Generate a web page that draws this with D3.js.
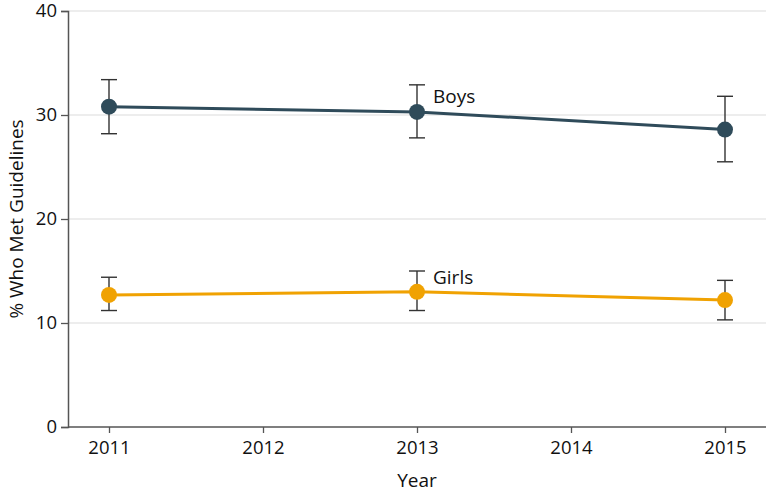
<html>
<script src="https://d3js.org/d3.v7.min.js"></script>
<style>
body { margin: 0; background: #fff; }
text { font-family: "Open Sans", "DejaVu Sans", sans-serif; fill: #111; }
</style>
<body>
<svg width="769" height="492"></svg>
<script>
const years = [2011, 2013, 2015];
const boys = [30.8, 30.3, 28.6];
const boysLow = [28.2, 27.8, 25.5];
const boysHigh = [33.4, 32.9, 31.8];
const girls = [12.7, 13.0, 12.2];
const girlsLow = [11.2, 11.2, 10.3];
const girlsHigh = [14.4, 15.0, 14.1];
const xTicks = [2011, 2012, 2013, 2014, 2015];
const yTicks = [0, 10, 20, 30, 40];

const svg = d3.select("svg");
const plotLeft = 68, plotRight = 766, plotTop = 11, plotBottom = 427;

const x = d3.scaleLinear().domain([2011, 2015]).range([109, 725]);
const y = d3.scaleLinear().domain([0, 40]).range([plotBottom, plotTop]);

// gridlines
svg.append("g").selectAll("line")
    .data(yTicks.filter(d => d > 0))
    .enter().append("line")
    .attr("x1", plotLeft).attr("x2", plotRight)
    .attr("y1", d => y(d)).attr("y2", d => y(d))
    .attr("stroke", "#dcdcdc").attr("stroke-width", 1.2);

// y axis
const yAxis = svg.append("g")
    .attr("transform", `translate(${plotLeft},0)`)
    .call(d3.axisLeft(y).tickValues(yTicks).tickSize(7).tickPadding(4));
yAxis.select(".domain").attr("stroke", "#555").attr("stroke-width", 1.5);
yAxis.selectAll(".tick line").attr("stroke", "#555").attr("stroke-width", 1.3);
yAxis.selectAll(".tick text").attr("font-size", 18.5).attr("fill", "#111")
    .attr("font-family", "'Open Sans', sans-serif");

// x axis
const xAxis = svg.append("g")
    .attr("transform", `translate(0,${plotBottom})`)
    .call(d3.axisBottom(x).tickValues(xTicks).tickFormat(d3.format("d")).tickSize(6).tickPadding(8));
xAxis.select(".domain").attr("d", `M${plotLeft},0H${plotRight}`).attr("stroke", "#555").attr("stroke-width", 1.5);
xAxis.selectAll(".tick line").attr("stroke", "#555").attr("stroke-width", 1.3);
xAxis.selectAll(".tick text").attr("font-size", 18.5).attr("fill", "#111")
    .attr("font-family", "'Open Sans', sans-serif");

// titles
svg.append("text")
    .attr("x", x(2013)).attr("y", 487)
    .attr("text-anchor", "middle").attr("font-size", 19)
    .text("Year");
svg.append("text")
    .attr("transform", `translate(23,${y(20)}) rotate(-90)`)
    .attr("text-anchor", "middle").attr("font-size", 19)
    .text("% Who Met Guidelines");

function series(vals, lo, hi, color, label, labelDy) {
    const pts = years.map((yr, i) => ({ yr, v: vals[i], lo: lo[i], hi: hi[i] }));
    const g = svg.append("g");
    g.append("path")
        .datum(pts)
        .attr("fill", "none").attr("stroke", color).attr("stroke-width", 3)
        .attr("d", d3.line().x(d => x(d.yr)).y(d => y(d.v)));
    const eb = g.selectAll(".eb").data(pts).enter().append("g");
    eb.append("line")
        .attr("x1", d => x(d.yr)).attr("x2", d => x(d.yr))
        .attr("y1", d => y(d.lo)).attr("y2", d => y(d.hi))
        .attr("stroke", "#333").attr("stroke-width", 1.4);
    ["lo", "hi"].forEach(k => {
        eb.append("line")
            .attr("x1", d => x(d.yr) - 8).attr("x2", d => x(d.yr) + 8)
            .attr("y1", d => y(d[k])).attr("y2", d => y(d[k]))
            .attr("stroke", "#333").attr("stroke-width", 1.4);
    });
    g.selectAll("circle").data(pts).enter().append("circle")
        .attr("cx", d => x(d.yr)).attr("cy", d => y(d.v)).attr("r", 8)
        .attr("fill", color);
    g.append("text")
        .attr("x", x(2013) + 16).attr("y", y(pts[1].hi) + labelDy)
        .attr("font-size", 19).text(label);
}

series(boys, boysLow, boysHigh, "#2f4b5a", "Boys", 18);
series(girls, girlsLow, girlsHigh, "#f0a202", "Girls", 13);
</script>
</body>
</html>
